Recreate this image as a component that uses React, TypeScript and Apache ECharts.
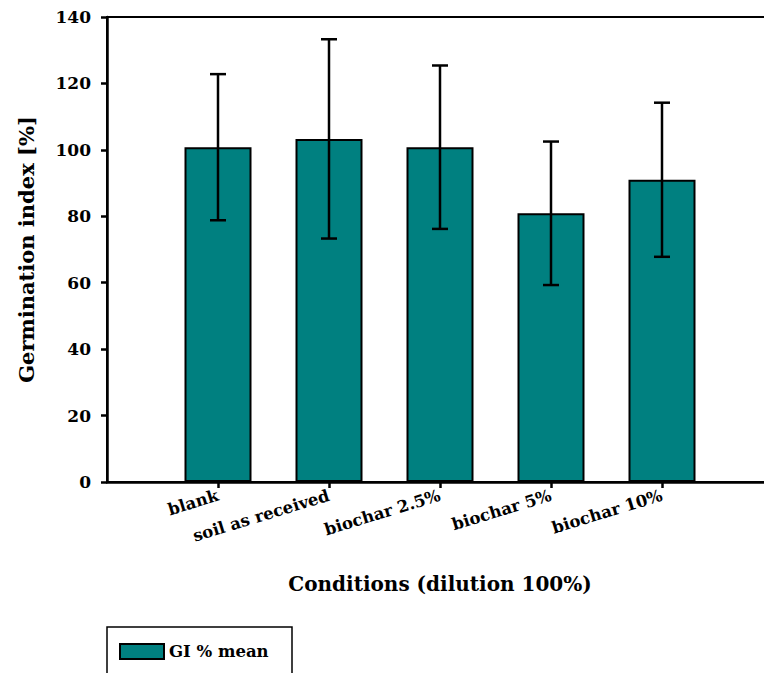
import React, { useEffect, useRef } from "react";
import * as echarts from "echarts";

// Germination index per condition: mean and standard deviation
const categories = ["blank", "soil as received", "biochar 2.5%", "biochar 5%", "biochar 10%"];
const giMean = [100.8, 103.3, 100.8, 80.9, 91.0];
const giSd = [22.0, 30.0, 24.6, 21.6, 23.2];
const yTicks = [0, 20, 40, 60, 80, 100, 120, 140];

const FONT = "DejaVu Serif";

export default function App() {
  const ref = useRef<HTMLDivElement>(null);

  useEffect(() => {
    if (!ref.current) return;
    document.body.style.margin = "0";
    document.body.style.overflow = "hidden";
    const chart = echarts.init(ref.current, undefined, { renderer: "svg" });

    const positions = categories.map((_, i) => i + 1);
    const barData = giMean.map((v, i) => [positions[i], v]);
    const errData = giMean.map((v, i) => [positions[i], v - giSd[i], v + giSd[i]]);

    chart.setOption({
      animation: false,
      backgroundColor: "#ffffff",
      textStyle: { fontFamily: FONT },
      grid: {
        left: 107,
        width: 666,
        top: 17,
        bottom: 191,
        outerBoundsMode: "none",
        containLabel: false,
        show: true,
        borderColor: "#000",
        borderWidth: 2,
        backgroundColor: "transparent",
      },
      legend: {
        left: 119,
        top: 643,
        itemWidth: 44,
        itemHeight: 15,
        itemGap: 10,
        padding: 0,
        textStyle: { fontFamily: FONT, fontWeight: "bold", fontSize: 16.5, color: "#000" },
        data: [{ name: "GI % mean", icon: "rect" }],
        itemStyle: { borderColor: "#000", borderWidth: 2 },
      },
      xAxis: {
        type: "value",
        min: 0,
        max: 6,
        interval: 1,
        name: "Conditions (dilution 100%)",
        nameLocation: "middle",
        nameGap: 92,
        nameTextStyle: { fontFamily: FONT, fontWeight: "bold", fontSize: 20, color: "#000" },
        axisLine: { show: true, lineStyle: { color: "#000", width: 2.5 } },
        axisTick: {
          show: true,
          customValues: positions,
          length: 6,
          lineStyle: { color: "#000", width: 2.5 },
        },
        axisLabel: {
          customValues: positions,
          rotate: 17,
          margin: 13,
          fontFamily: FONT,
          fontWeight: "bold",
          fontSize: 16.5,
          color: "#000",
          formatter: (v: number) => categories[Math.round(v) - 1] ?? "",
        },
        splitLine: { show: false },
      },
      yAxis: {
        type: "value",
        min: yTicks[0],
        max: yTicks[yTicks.length - 1],
        interval: 20,
        name: "Germination index [%]",
        nameLocation: "middle",
        nameGap: 70,
        nameTextStyle: { fontFamily: FONT, fontWeight: "bold", fontSize: 21, color: "#000" },
        axisLine: { show: true, lineStyle: { color: "#000", width: 2.5 } },
        axisTick: { show: true, length: 6, lineStyle: { color: "#000", width: 2.5 } },
        axisLabel: {
          margin: 16,
          fontFamily: FONT,
          fontWeight: "bold",
          fontSize: 17,
          color: "#000",
        },
        splitLine: { show: false },
      },
      series: [
        {
          name: "GI % mean",
          type: "bar",
          data: barData,
          barWidth: 67,
          itemStyle: { color: "#008080", borderColor: "#000", borderWidth: 2 },
          z: 2,
        },
        {
          name: "sd",
          type: "custom",
          data: errData,
          z: 5,
          encode: { x: 0, y: [1, 2] },
          renderItem: (params: any, api: any) => {
            const x = api.value(0);
            const lo = api.coord([x, api.value(1)]);
            const hi = api.coord([x, api.value(2)]);
            const half = 8;
            const style = { stroke: "#000", lineWidth: 2.5 };
            return {
              type: "group",
              children: [
                { type: "line", shape: { x1: hi[0], y1: hi[1], x2: lo[0], y2: lo[1] }, style },
                { type: "line", shape: { x1: hi[0] - half, y1: hi[1], x2: hi[0] + half, y2: hi[1] }, style },
                { type: "line", shape: { x1: lo[0] - half, y1: lo[1], x2: lo[0] + half, y2: lo[1] }, style },
              ],
            };
          },
        },
      ],
      graphic: [
        {
          type: "rect",
          shape: { x: 107, y: 627, width: 185, height: 70 },
          style: { fill: "none", stroke: "#000", lineWidth: 1.5 },
          silent: true,
        },
      ],
    });

    return () => chart.dispose();
  }, []);

  return <div ref={ref} style={{ width: 764, height: 673, background: "#fff" }} />;
}
